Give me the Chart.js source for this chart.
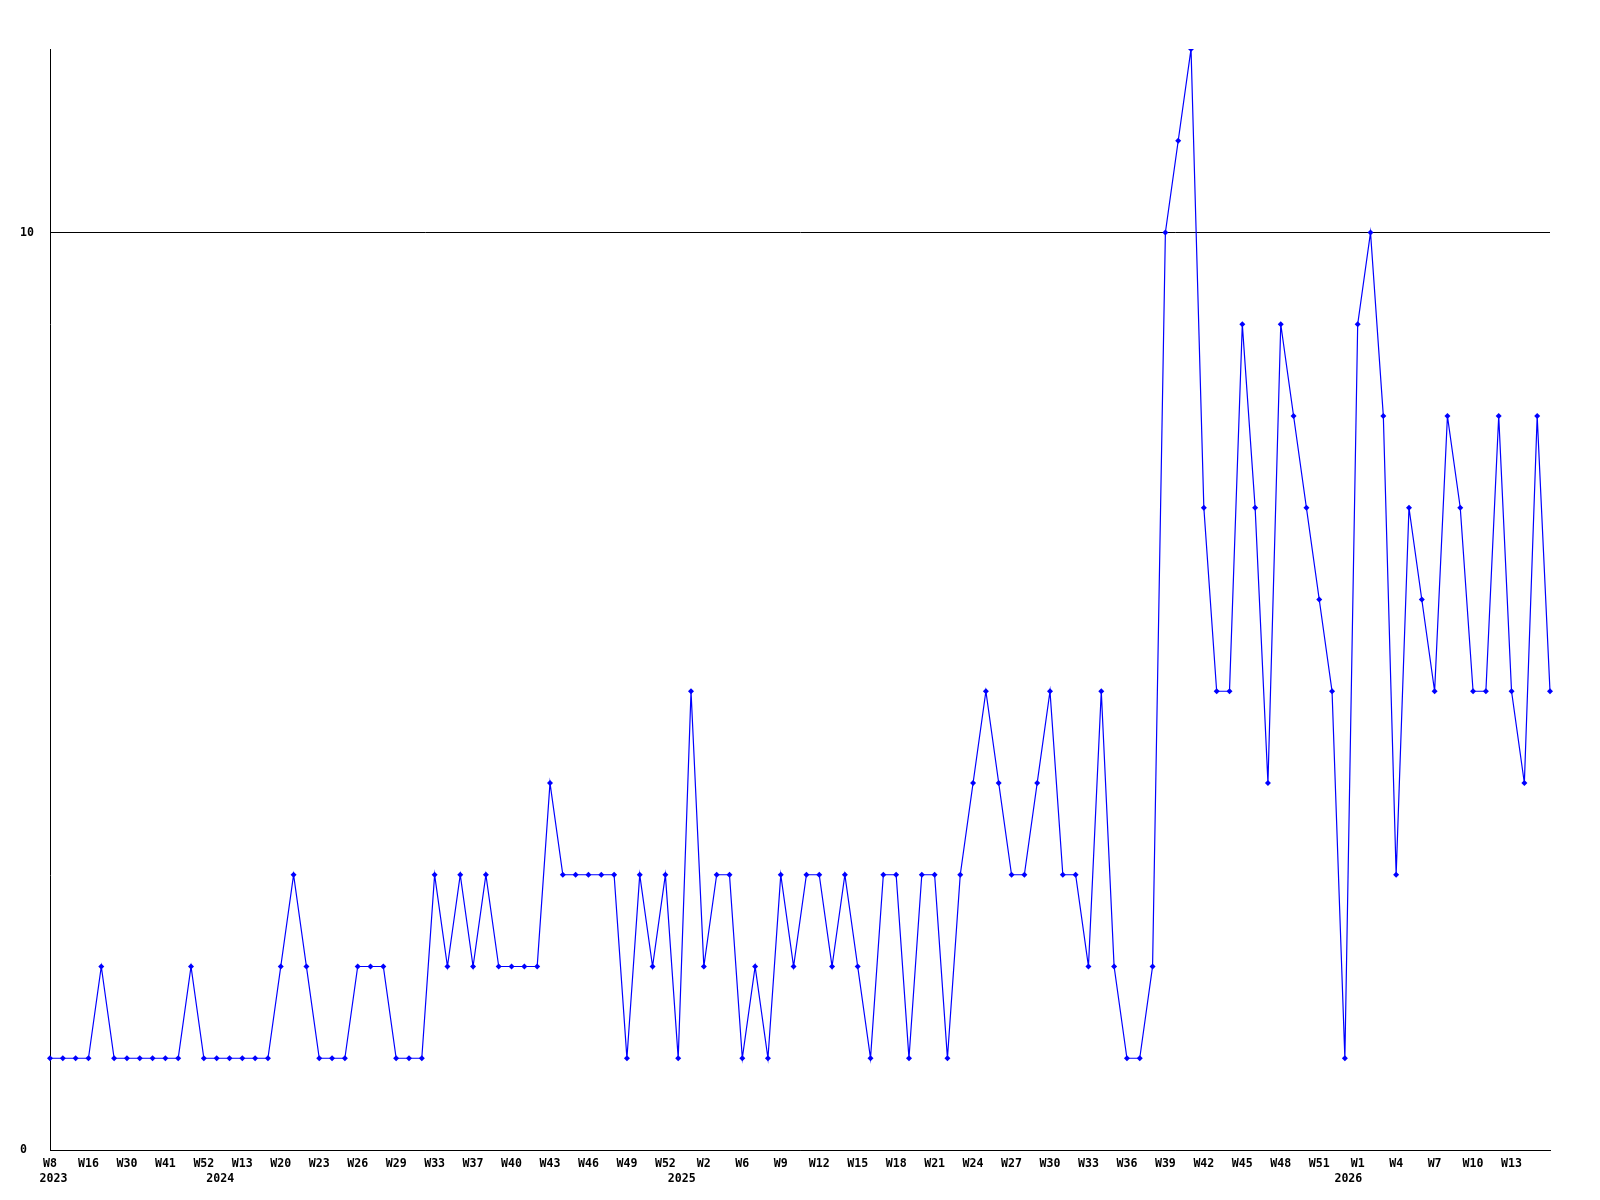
<!DOCTYPE html>
<html lang="en">
<head>
    <meta charset="UTF-8">
    <title>Weekly count</title>
    <script src="https://cdn.jsdelivr.net/npm/chart.js"></script>
    <style>
        body { margin: 0; background: #ffffff; }
        canvas { display: block; }
    </style>
</head>
<body>
    <canvas id="weekChart" width="1600" height="1200"></canvas>
    <script>
        // week of each point (only every third one is printed on the axis)
        const weeks = [
            'W8', 'W10', 'W13', 'W16', 'W19', 'W24', 'W30', 'W33', 'W37', 'W41', 'W45', 'W49', 'W52',
            'W2', 'W8', 'W13', 'W15', 'W18', 'W20', 'W21', 'W22', 'W23', 'W24', 'W25', 'W26', 'W27',
            'W28', 'W29', 'W31', 'W32', 'W33', 'W35', 'W36', 'W37', 'W38', 'W39', 'W40', 'W41', 'W42',
            'W43', 'W44', 'W45', 'W46', 'W47', 'W48', 'W49', 'W50', 'W51', 'W52',
            'W0', 'W1', 'W2', 'W3', 'W5', 'W6', 'W7', 'W8', 'W9', 'W10', 'W11', 'W12', 'W13', 'W14',
            'W15', 'W16', 'W17', 'W18', 'W19', 'W20', 'W21', 'W22', 'W23', 'W24', 'W25', 'W26', 'W27',
            'W28', 'W29', 'W30', 'W31', 'W32', 'W33', 'W34', 'W35', 'W36', 'W37', 'W38', 'W39', 'W40',
            'W41', 'W42', 'W43', 'W44', 'W45', 'W46', 'W47', 'W48', 'W49', 'W50', 'W51', 'W52',
            'W0', 'W1', 'W2', 'W3', 'W4', 'W5', 'W6', 'W7', 'W8', 'W9', 'W10', 'W11', 'W12', 'W13',
            'W14', 'W15', 'W16'
        ];

        // year printed under the first point of each year
        const years = ['2023', '2024', '2025', '2026'];
        const yearStart = [0, 13, 49, 101];

        const counts = [
            1, 1, 1, 1, 2, 1, 1, 1, 1, 1, 1, 2, 1,
            1, 1, 1, 1, 1, 2, 3, 2, 1, 1, 1, 2, 2,
            2, 1, 1, 1, 3, 2, 3, 2, 3, 2, 2, 2, 2,
            4, 3, 3, 3, 3, 3, 1, 3, 2, 3,
            1, 5, 2, 3, 3, 1, 2, 1, 3, 2, 3, 3, 2,
            3, 2, 1, 3, 3, 1, 3, 3, 1, 3, 4, 5, 4,
            3, 3, 4, 5, 3, 3, 2, 5, 2, 1, 1, 2, 10,
            11, 12, 7, 5, 5, 9, 7, 4, 9, 8, 7, 6, 5,
            1, 9, 10, 8, 3, 7, 6, 5, 8, 7, 5, 5, 8,
            5, 4, 8, 5
        ];

        const yTicks = [0, 10];

        const axisFont = { family: 'DejaVu Sans Mono', weight: 'bold', size: 11.6, lineHeight: 15 / 11.6 };

        const config = {
            type: 'line',
            data: {
                labels: weeks,
                datasets: [{
                    data: counts,
                    borderColor: '#0000ff',
                    backgroundColor: '#0000ff',
                    borderWidth: 1.2,
                    tension: 0,
                    pointStyle: 'rectRot',
                    pointRadius: 3,
                    pointBorderWidth: 0,
                    pointBackgroundColor: '#0000ff'
                }]
            },
            options: {
                responsive: false,
                animation: false,
                layout: {
                    padding: { left: 20, right: 50, top: 49, bottom: 0 }
                },
                plugins: {
                    legend: { display: false },
                    tooltip: { enabled: false }
                },
                scales: {
                    x: {
                        type: 'category',
                        offset: false,
                        grid: { display: false, drawTicks: false },
                        border: { display: true, color: '#000000', width: 1 },
                        ticks: {
                            autoSkip: false,
                            maxRotation: 0,
                            minRotation: 0,
                            padding: 6,
                            color: '#000000',
                            font: axisFont,
                            callback: function (value, index) {
                                // every third week, but not the very last point
                                const shown = index % 3 === 0 && index < weeks.length - 1;
                                const week = shown ? weeks[index] : '';
                                const y = yearStart.indexOf(index);
                                return [week, y >= 0 ? ' ' + years[y] : ''];
                            }
                        },
                        afterFit: function (scale) { scale.height = 50; }
                    },
                    y: {
                        min: 0,
                        max: 12,
                        grid: { color: '#000000', lineWidth: 1, drawTicks: false },
                        border: { display: true, color: '#000000', width: 1 },
                        ticks: {
                            crossAlign: 'far',
                            padding: 16,
                            color: '#000000',
                            font: axisFont
                        },
                        afterBuildTicks: function (scale) {
                            scale.ticks = yTicks.map(v => ({ value: v }));
                        },
                        afterFit: function (scale) { scale.width = 30; }
                    }
                }
            }
        };

        const ctx = document.getElementById('weekChart').getContext('2d');
        new Chart(ctx, config);
    </script>
</body>
</html>
